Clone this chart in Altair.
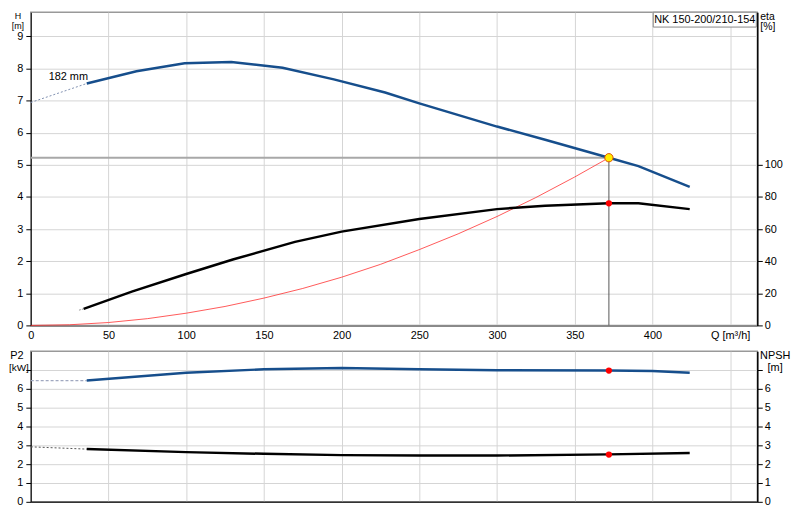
import altair as alt
import pandas as pd

# ---- data ----
Q_H = [36, 68, 99, 129, 162, 195, 228, 250, 300, 331, 372, 391, 424]
H_vals = [7.53, 7.91, 8.16, 8.20, 8.02, 7.66, 7.25, 6.91, 6.19, 5.78, 5.22, 4.96, 4.31]
Q_H_ext = [0, 36]
H_ext = [6.94, 7.53]

Q_eta = [34, 65, 100, 130, 170, 200, 250, 300, 331, 372, 391, 424]
eta_vals = [10.3, 21, 32, 41, 52, 58.4, 66.2, 72.4, 74.5, 76, 76, 72.4]
Q_eta_ext = [31, 34]
eta_ext = [9.5, 10.3]

Q_sys = [0, 25, 50, 75, 100, 125, 150, 175, 200, 225, 250, 275, 300, 325, 350, 372]
H_sys = [0, 0.02, 0.09, 0.21, 0.38, 0.59, 0.85, 1.15, 1.5, 1.9, 2.36, 2.85, 3.39, 3.98, 4.62, 5.22]

Q_P2 = [36, 100, 150, 200, 250, 300, 372, 400, 424]
P2_vals = [6.44, 6.85, 7.04, 7.11, 7.04, 6.99, 6.97, 6.95, 6.85]
Q_P2_ext = [0, 36]
P2_ext = [6.44, 6.44]

Q_NPSH = [36, 100, 150, 200, 250, 300, 372, 424]
NPSH_vals = [2.80, 2.64, 2.55, 2.48, 2.46, 2.46, 2.52, 2.59]
Q_NPSH_ext = [0, 36]
NPSH_ext = [2.92, 2.80]

Q_op = 372
H_op = 5.22
eta_op = 76
P2_op = 6.97
NPSH_op = 2.51

x_ticks = [0, 50, 100, 150, 200, 250, 300, 350, 400, 450]
H_ticks = [0, 1, 2, 3, 4, 5, 6, 7, 8, 9]
eta_ticks = [0, 20, 40, 60, 80, 100]
P_ticks = [0, 1, 2, 3, 4, 5, 6, 7]

pump_label = "NK 150-200/210-154"
imp_label = "182 mm"

BLUE = "#164e8c"
FONT = "Liberation Sans"
W = 733
H_TOP = 316
H_BOT = 152

df_H = pd.DataFrame({"Q": Q_H, "v": H_vals})
df_H_ext = pd.DataFrame({"Q": Q_H_ext, "v": H_ext})
df_eta = pd.DataFrame({"Q": Q_eta, "v": eta_vals})
df_eta_ext = pd.DataFrame({"Q": Q_eta_ext, "v": eta_ext})
df_sys = pd.DataFrame({"Q": Q_sys, "v": H_sys})
df_P2 = pd.DataFrame({"Q": Q_P2, "v": P2_vals})
df_P2_ext = pd.DataFrame({"Q": Q_P2_ext, "v": P2_ext})
df_N = pd.DataFrame({"Q": Q_NPSH, "v": NPSH_vals})
df_N_ext = pd.DataFrame({"Q": Q_NPSH_ext, "v": NPSH_ext})
df_op = pd.DataFrame({"Q": [Q_op], "Q0": [0], "H": [H_op], "H0": [0],
                      "eta": [eta_op], "P2": [P2_op], "N": [NPSH_op]})
one = pd.DataFrame({"t": [""]})

xscale = alt.Scale(domain=[0, 467.5], nice=False, zero=False)
x_top_axis = alt.Axis(values=x_ticks, ticks=False, title=None, labelFlush=False,
                      labelOverlap=False, domainColor="#8a8a8a", domainWidth=2,
                      labelPadding=4,
                      labelExpr="datum.value == 450 ? 'Q [m\u00b3/h]' : datum.label")
x_bot_axis = alt.Axis(values=x_ticks, ticks=False, labels=False, title=None,
                      domainColor="#333333", domainWidth=1.5)

def XT(f="Q"):
    return alt.X(f, type="quantitative", scale=xscale, axis=x_top_axis)

def XB(f="Q"):
    return alt.X(f, type="quantitative", scale=xscale, axis=x_bot_axis)

h_scale = alt.Scale(domain=[0, 9.75], nice=False, zero=False)
h_axis = alt.Axis(values=H_ticks, title=None, orient="left", grid=True,
                  labelPadding=3, domainColor="black")
def YH(f):
    return alt.Y(f, type="quantitative", scale=h_scale, axis=h_axis)

e_scale = alt.Scale(domain=[0, 195], nice=False, zero=False)
e_axis = alt.Axis(values=eta_ticks, title=None, orient="right", grid=False,
                  labelPadding=2, domainColor="black", domainWidth=1.5)
def YE(f):
    return alt.Y(f, type="quantitative", scale=e_scale, axis=e_axis)

p_scale = alt.Scale(domain=[0, 8], nice=False, zero=False)
p_axis = alt.Axis(values=P_ticks, title=None, orient="left", grid=True,
                  labelPadding=3, domainColor="black",
                  labelExpr="datum.value == 7 ? '' : datum.label")
def YP(f):
    return alt.Y(f, type="quantitative", scale=p_scale, axis=p_axis)

n_axis = alt.Axis(values=P_ticks, title=None, orient="right", grid=False,
                  labelPadding=2, domainColor="black", domainWidth=1.5,
                  labelExpr="datum.value == 7 ? '' : datum.label")
def YN(f):
    return alt.Y(f, type="quantitative", scale=p_scale, axis=n_axis)

def txt(s, x, y, align="left", size=11, baseline="middle"):
    return alt.Chart(pd.DataFrame({"t": [s]})).mark_text(
        align=align, baseline=baseline, font=FONT, fontSize=size, color="black"
    ).encode(x=alt.value(x), y=alt.value(y), text="t:N")

# ---- top panel ----
h_line = alt.Chart(df_H).mark_line(color=BLUE, strokeWidth=2.5).encode(x=XT(), y=YH("v"))
h_ext = alt.Chart(df_H_ext).mark_line(color="#8090b0", strokeWidth=1, strokeDash=[2, 2]).encode(x=XT(), y=YH("v"))
sys_line = alt.Chart(df_sys).mark_line(color="#ff2020", strokeWidth=1, opacity=0.75).encode(x=XT(), y=YH("v"))
h_rule = alt.Chart(df_op).mark_rule(color="#a8a8a8", strokeWidth=2).encode(
    x=XT("Q0"), x2="Q", y=YH("H"))
v_rule = alt.Chart(df_op).mark_rule(color="#555555", strokeWidth=1).encode(
    x=XT("Q"), y=YH("H"), y2="H0")
op_pt = alt.Chart(df_op).mark_point(filled=True, fill="#ffee00", stroke="#e05000",
                                    strokeWidth=1, size=70, opacity=1).encode(x=XT("Q"), y=YH("H"))

box = alt.Chart(one).mark_rect(fill="white", stroke="#888888", strokeWidth=1).encode(
    x=alt.value(628), x2=alt.value(732), y=alt.value(0), y2=alt.value(15))

h_group = alt.layer(
    h_rule, v_rule, sys_line, h_ext, h_line, op_pt,
)

eta_line = alt.Chart(df_eta).mark_line(color="black", strokeWidth=2.5).encode(x=XT(), y=YE("v"))
eta_ext_l = alt.Chart(df_eta_ext).mark_line(color="#999999", strokeWidth=1, strokeDash=[2, 1]).encode(x=XT(), y=YE("v"))
eta_pt = alt.Chart(df_op).mark_circle(color="red", size=40, opacity=1).encode(x=XT("Q"), y=YE("eta"))
e_group = alt.layer(eta_ext_l, eta_line, eta_pt)

top = alt.layer(
    h_group, e_group,
    box,
    txt(pump_label, 680, 7.5, align="center"),
    txt(imp_label, 18, 65),
    txt("H", -13, 0, align="center", size=9, baseline="top"),
    txt("[m]", -13, 10.3, align="center", size=9, baseline="top"),
    txt("eta", 736, 0, size=10.5, baseline="top"),
    txt("[%]", 736, 10, size=10.5, baseline="top"),
).resolve_scale(y="independent").properties(width=W, height=H_TOP)

# ---- bottom panel ----
p2_line = alt.Chart(df_P2).mark_line(color=BLUE, strokeWidth=2.5).encode(x=XB(), y=YP("v"))
p2_ext = alt.Chart(df_P2_ext).mark_line(color="#a0a8c0", strokeWidth=1.2, strokeDash=[3, 2]).encode(x=XB(), y=YP("v"))
p2_pt = alt.Chart(df_op).mark_circle(color="red", size=40, opacity=1).encode(x=XB("Q"), y=YP("P2"))
p_group = alt.layer(p2_ext, p2_line, p2_pt)

n_line = alt.Chart(df_N).mark_line(color="black", strokeWidth=2.5).encode(x=XB(), y=YN("v"))
n_ext = alt.Chart(df_N_ext).mark_line(color="#555555", strokeWidth=1, strokeDash=[2, 2]).encode(x=XB(), y=YN("v"))
n_pt = alt.Chart(df_op).mark_circle(color="red", size=40, opacity=1).encode(x=XB("Q"), y=YN("N"))
n_group = alt.layer(n_ext, n_line, n_pt)

bottom = alt.layer(
    p_group, n_group,
    txt("P2", -14, 5, align="center"),
    txt("[kW]", -22, 17, size=10),
    txt("NPSH", 751, 5, align="center"),
    txt("[m]", 751, 17, align="center"),
).resolve_scale(y="independent").properties(width=W, height=H_BOT)

chart = alt.vconcat(top, bottom, spacing=26, bounds="flush").properties(
    padding={"left": 0, "top": 0, "right": 0, "bottom": 0}
).configure_view(stroke="#999999", strokeWidth=1.5).configure_axis(
    labelFont=FONT, labelFontSize=11, labelColor="black",
    tickColor="black", tickSize=5, gridColor="#d4d4d4", gridWidth=1,
)

chart.save("out.html", embed_options={"renderer": "svg", "actions": False})
